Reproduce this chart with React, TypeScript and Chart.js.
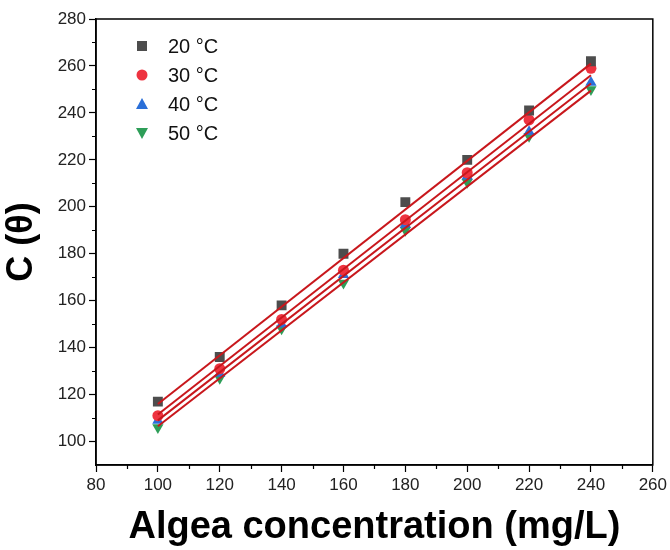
import { useEffect, useRef } from "react";
import { Chart, registerables } from "chart.js";

Chart.register(...registerables);

// Data
const concentrations = [100, 120, 140, 160, 180, 200, 220, 240];
const c20 = [117, 136, 158, 180, 202, 220, 241, 262];
const c30 = [111, 131, 152, 173, 194.5, 214.5, 237, 259];
const c40 = [109, 129, 150, 171, 192.5, 213, 232, 253];
const c50 = [106, 127, 148, 167.5, 190, 210.5, 230, 250];

// Linear fit end points
const fitX = [100, 240];
const fit20 = [116, 261];
const fit30 = [111.5, 256];
const fit40 = [109, 252.5];
const fit50 = [106.5, 249.5];

const seriesLabels = ["20 °C", "30 °C", "40 °C", "50 °C"];
const seriesColors = ["#4d4d4d", "#ee3340", "#2a6fd8", "#2e9e58"];
const seriesStyles = ["rect", "circle", "triangle", "triangleDown"];
const fitColor = "#c8171c";

const xMin = 80, xMax = 260, xStep = 20;
const yMin = 90, yMax = 280, yStep = 20;

const FONT = "'Liberation Sans', Arial, sans-serif";

const pts = (xs: number[], ys: number[]) => xs.map((x, i) => ({ x, y: ys[i] }));

function drawMarker(ctx: CanvasRenderingContext2D, style: string, x: number, y: number, color: string) {
  ctx.fillStyle = color;
  ctx.beginPath();
  if (style === "rect") {
    ctx.rect(x - 5, y - 5, 10, 10);
  } else if (style === "circle") {
    ctx.arc(x, y, 5.5, 0, Math.PI * 2);
  } else if (style === "triangle") {
    ctx.moveTo(x, y - 6);
    ctx.lineTo(x + 6, y + 5);
    ctx.lineTo(x - 6, y + 5);
    ctx.closePath();
  } else {
    ctx.moveTo(x, y + 6);
    ctx.lineTo(x + 6, y - 5);
    ctx.lineTo(x - 6, y - 5);
    ctx.closePath();
  }
  ctx.fill();
}

const framePlugin = {
  id: "frame",
  afterDraw(chart: any) {
    const { ctx, chartArea: a, scales } = chart;
    ctx.save();
    ctx.strokeStyle = "#000";
    ctx.lineWidth = 1.5;
    ctx.strokeRect(a.left, a.top, a.right - a.left, a.bottom - a.top);
    ctx.lineWidth = 1.2;
    ctx.beginPath();
    for (let v = xMin + xStep / 2; v < xMax; v += xStep) {
      const px = Math.round(scales.x.getPixelForValue(v)) + 0.5;
      ctx.moveTo(px, a.bottom);
      ctx.lineTo(px, a.bottom + 4);
    }
    for (let v = 110; v < yMax; v += yStep) {
      const py = Math.round(scales.y.getPixelForValue(v)) + 0.5;
      ctx.moveTo(a.left - 4, py);
      ctx.lineTo(a.left, py);
    }
    ctx.stroke();

    // legend
    const lx = a.left + 46;
    let ly = a.top + 27;
    ctx.font = `20px ${FONT}`;
    ctx.textBaseline = "middle";
    seriesLabels.forEach((lab, i) => {
      drawMarker(ctx, seriesStyles[i], lx, ly, seriesColors[i]);
      ctx.fillStyle = "#111";
      ctx.fillText(lab, lx + 26, ly + 1);
      ly += 29;
    });
    ctx.restore();
  },
};

export default function App() {
  const ref = useRef<HTMLCanvasElement>(null);
  useEffect(() => {
    document.body.style.margin = "0";
    const series = [c20, c30, c40, c50];
    const fits = [fit20, fit30, fit40, fit50];
    const datasets: any[] = [];
    series.forEach((s, i) => {
      const st = seriesStyles[i];
      datasets.push({
        type: "scatter",
        label: seriesLabels[i],
        data: pts(concentrations, s),
        pointStyle: st === "triangleDown" ? "triangle" : st,
        rotation: st === "triangleDown" ? 180 : 0,
        pointRadius: st === "rect" ? 7 : st === "circle" ? 5.5 : 6.5,
        backgroundColor: seriesColors[i],
        borderColor: seriesColors[i],
        borderWidth: 0,
        order: 2,
      });
    });
    fits.forEach((f, i) => {
      datasets.push({
        type: "line",
        label: "fit " + seriesLabels[i],
        data: pts(fitX, f),
        borderColor: fitColor,
        borderWidth: 2,
        pointRadius: 0,
        fill: false,
        order: 1,
      });
    });
    const chart = new Chart(ref.current!, {
      type: "scatter",
      data: { datasets },
      plugins: [framePlugin],
      options: {
        animation: false,
        responsive: false,
        layout: { padding: { top: 19, right: 17, left: 0, bottom: 0 } },
        plugins: { legend: { display: false }, tooltip: { enabled: false } },
        scales: {
          x: {
            type: "linear",
            min: xMin,
            max: xMax,
            ticks: {
              stepSize: xStep,
              color: "#222",
              font: { family: FONT, size: 17 },
              padding: 3,
            },
            grid: { drawOnChartArea: false, tickLength: 7, color: "#000", tickWidth: 1.2 },
            border: { display: true, color: "#000", width: 1.5 },
            title: {
              display: true,
              text: "Algea concentration (mg/L)",
              color: "#000",
              font: { family: FONT, size: 38, weight: "bold" },
              padding: { top: 0, bottom: 0 },
            },
            afterFit: (s: any) => { s.height = 85; },
          },
          y: {
            type: "linear",
            min: yMin,
            max: yMax,
            ticks: {
              stepSize: yStep,
              includeBounds: false,
              color: "#222",
              font: { family: FONT, size: 17 },
              padding: 3,
            },
            grid: { drawOnChartArea: false, tickLength: 7, color: "#000", tickWidth: 1.2 },
            border: { display: true, color: "#000", width: 1.5 },
            title: {
              display: true,
              text: "C (θ)",
              color: "#000",
              font: { family: FONT, size: 36, weight: "bold" },
              padding: { top: 0, bottom: 0 },
            },
            afterFit: (s: any) => { s.width = 96; },
          },
        },
      },
    });
    return () => chart.destroy();
  }, []);
  return <canvas ref={ref} width={670} height={550} />;
}
